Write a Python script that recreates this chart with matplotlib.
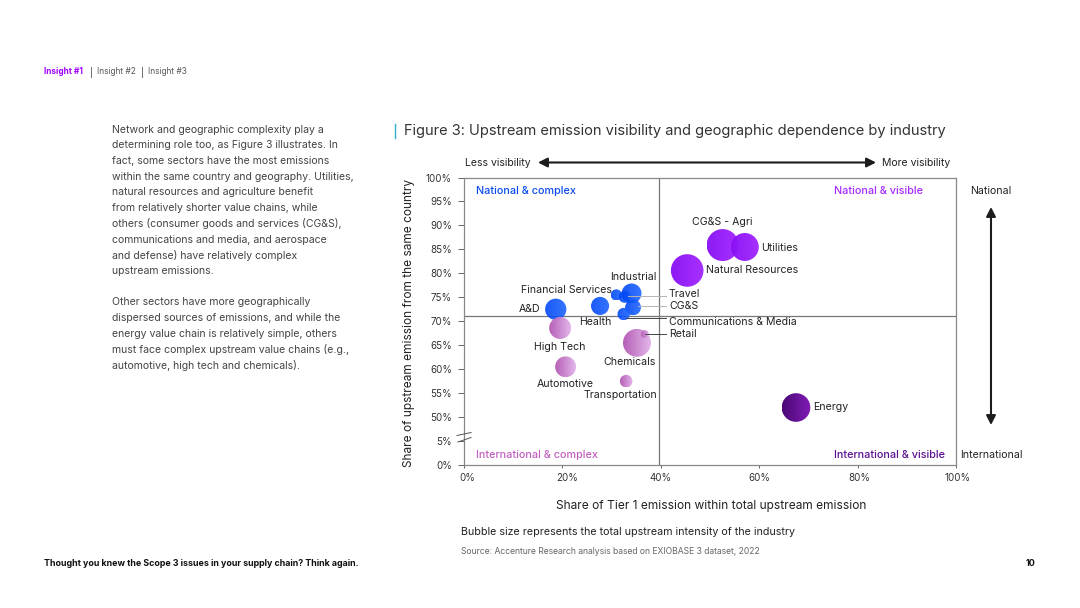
import numpy as np
import matplotlib
matplotlib.use("Agg")
import matplotlib.pyplot as plt
from matplotlib.colors import LinearSegmentedColormap
from matplotlib.patches import Circle
from matplotlib.transforms import IdentityTransform, ScaledTranslation

W, H = 1080, 608

# chart data
industries = ['A&D', 'Financial Services', 'Health', 'Travel', 'Industrial', 'CG&S', 'Communications & Media',
              'High Tech', 'Automotive', 'Chemicals', 'Transportation', 'Retail',
              'Natural Resources', 'CG&S - Agri', 'Utilities', 'Energy']
tier1_share = [18.7, 31.0, 27.7, 32.7, 34.1, 34.4, 32.5,
               19.6, 20.7, 35.2, 33.0, 36.8,
               45.4, 52.6, 57.1, 67.5]
same_country = [72.5, 75.5, 73.2, 75.1, 75.8, 72.9, 71.5,
                68.6, 60.5, 65.5, 57.5, 67.3,
                80.6, 85.9, 85.5, 52.0]
bubble_size = [235, 65, 170, 75, 205, 130, 80,
               250, 225, 405, 82, 33,
               550, 530, 405, 425]
groups = ['complex_nat'] * 7 + ['complex_int'] * 5 + ['visible_nat'] * 3 + ['visible_int']

x_ticks = [0, 20, 40, 60, 80, 100]
y_ticks = [0, 5, 50, 55, 60, 65, 70, 75, 80, 85, 90, 95, 100]

group_colors = {
    'complex_nat': ('#0046f5', '#1f66ff'),
    'complex_int': ('#b45ab4', '#e2b4ea'),
    'visible_nat': ('#8a12f5', '#a52aff'),
    'visible_int': ('#440070', '#7d14b4'),
}

# text placed by pixel position on the page: label, left x, centre y
label_pos = [
    ('A&D', 519, 309), ('Financial Services', 521, 290), ('Health', 579, 322), ('Travel', 669, 294),
    ('Industrial', 610, 277), ('CG&S', 669, 306), ('Communications & Media', 669, 322),
    ('High Tech', 534, 347), ('Automotive', 537, 384), ('Chemicals', 603, 362),
    ('Transportation', 584, 395), ('Retail', 669, 334), ('Natural Resources', 706, 270),
    ('CG&S - Agri', 692, 222), ('Utilities', 761, 248), ('Energy', 813, 407),
]

body_lines = [
    'Network and geographic complexity play a',
    'determining role too, as Figure 3 illustrates. In',
    'fact, some sectors have the most emissions',
    'within the same country and geography. Utilities,',
    'natural resources and agriculture benefit',
    'from relatively shorter value chains, while',
    'others (consumer goods and services (CG&S),',
    'communications and media, and aerospace',
    'and defense) have relatively complex',
    'upstream emissions.',
    '',
    'Other sectors have more geographically',
    'dispersed sources of emissions, and while the',
    'energy value chain is relatively simple, others',
    'must face complex upstream value chains (e.g.,',
    'automotive, high tech and chemicals).',
]

plt.rcParams['font.family'] = ['Inter', 'DejaVu Sans']


def px_text(x, y, s, size=7.0, color='#222222', weight='normal', ha='left', **kw):
    return fig.text(x / W, 1 - y / H, s, fontsize=size, color=color, fontweight=weight,
                    ha=ha, va='center', **kw)


def px_line(x0, y0, x1, y1, color='#888888', lw=0.8):
    fig.add_artist(plt.Line2D([x0 / W, x1 / W], [1 - y0 / H, 1 - y1 / H], color=color, lw=lw))


def px_arrow(x0, y0, x1, y1):
    ax_page.annotate('', xy=(x1, y1), xytext=(x0, y0), xycoords='data', textcoords='data',
                     arrowprops=dict(arrowstyle='<|-|>,head_length=0.55,head_width=0.28', color='#1c1c1c',
                                     lw=1.5, shrinkA=0, shrinkB=0))


# broken y axis: 0-5 and 50-100 get the same spacing per tick
def y_forward(v):
    return np.interp(v, [0, 5, 50, 100], [0, 1, 2, 12])


def y_inverse(v):
    return np.interp(v, [0, 1, 2, 12], [0, 5, 50, 100])


fig = plt.figure(figsize=(W / 100, H / 100), dpi=100, facecolor='white')

# transparent page layer for the arrows
ax_page = fig.add_axes([0, 0, 1, 1], zorder=0)
ax_page.set_xlim(0, W)
ax_page.set_ylim(H, 0)
ax_page.axis('off')

ax = fig.add_axes([463.7 / W, 1 - 465 / H, (956 - 463.7) / W, (465 - 177.5) / H], zorder=1)
ax.patch.set_alpha(0)
ax.set_yscale('function', functions=(y_forward, y_inverse))
ax.set_xlim(0, 100)
ax.set_ylim(0, 100)

ax.set_xticks(x_ticks)
ax.set_xticklabels([f'{t}%' for t in x_ticks], fontsize=7, color='#333333')
ax.set_yticks(y_ticks)
ax.set_yticklabels([f'{t}%' for t in y_ticks], fontsize=7, color='#333333')
ax.minorticks_off()
ax.tick_params(axis='y', length=4, width=0.7, color='#666666', pad=4.4)
ax.tick_params(axis='x', length=2.2, width=0.7, color='#666666', pad=3.8)

# the x tick labels sit a little right of their ticks in the original
for lab, shift in zip(ax.get_xticklabels(), [4, 5, 0, 0, 2, 2]):
    lab.set_transform(lab.get_transform() + ScaledTranslation(shift / 100, 0, fig.dpi_scale_trans))
for side in ax.spines:
    ax.spines[side].set_color('#888888')
    ax.spines[side].set_linewidth(0.9)

# quadrant dividers
ax.axvline(39.6, color='#777777', lw=0.9, zorder=1)
ax.axhline(71.0, color='#777777', lw=0.9, zorder=1)

# bubbles, then a horizontal gradient clipped to each one
xs = np.array(tier1_share)
ys = np.array(same_country)
sizes = np.array(bubble_size)
base = [group_colors[g][0] for g in groups]
ax.scatter(xs, ys, s=sizes, c=base, linewidths=0, alpha=0.0, zorder=2)
fig.canvas.draw()
grad = np.linspace(0, 1, 64).reshape(1, -1)
for x, y, s, g in zip(xs, ys, sizes, groups):
    cx, cy = ax.transData.transform((x, y))
    r = np.sqrt(s) / 2 * 100 / 72
    cmap = LinearSegmentedColormap.from_list(g, group_colors[g])
    im = ax.imshow(grad, cmap=cmap, extent=(cx - r, cx + r, cy - r, cy + r), aspect='auto',
                   transform=IdentityTransform(), zorder=3, alpha=0.9 if g == 'complex_nat' else 0.97)
    im.set_clip_path(Circle((cx, cy), r, transform=IdentityTransform()))
ax.set_xlim(0, 100)
ax.set_ylim(0, 100)

# leader lines
px_line(628, 295.5, 666, 295.5, '#b5b5b5', 0.7)
px_line(638, 305.5, 666, 305.5, '#b5b5b5', 0.7)
px_line(626, 317.5, 666, 317.5, '#444444', 0.7)
px_line(645, 334.3, 666, 334.3, '#444444', 0.7)

# axis break marks
px_line(457, 435.5, 471, 432.5, '#555555', 0.7)
px_line(458, 442, 471, 437.5, '#555555', 0.7)

for name, lx, ly in label_pos:
    px_text(lx, ly, name, size=7.6)

# quadrant captions
px_text(476, 190.5, 'National & complex', size=7.8, color='#0a4cf0', weight='medium')
px_text(834, 190.5, 'National & visible', size=7.8, color='#a52aff', weight='medium')
px_text(476, 455, 'International & complex', size=7.8, color='#c060c0', weight='medium')
px_text(834, 455, 'International & visible', size=7.8, color='#5a1090', weight='medium')

# visibility and origin arrows
px_text(465, 163, 'Less visibility', size=7.55)
px_text(882, 163, 'More visibility', size=7.55)
px_arrow(538, 162.5, 876, 162.5)
px_text(991, 190.5, 'National', size=7.6, ha='center')
px_text(991, 455, 'International', size=7.6, ha='center')
px_arrow(991, 207, 991, 425)

# titles and axis names
px_line(394.5, 124, 394.5, 138, '#30b0c8', 1.0)
px_text(404, 131, 'Figure 3: Upstream emission visibility and geographic dependence by industry', size=10.55, color='#333333')
px_text(711, 506, 'Share of Tier 1 emission within total upstream emission', size=8.6, ha='center')
px_text(409, 323, 'Share of upstream emission from the same country', size=8.55, ha='center', rotation=90)
px_text(461, 532, 'Bubble size represents the total upstream intensity of the industry', size=7.7)
px_text(461, 552, 'Source: Accenture Research analysis based on EXIOBASE 3 dataset, 2022', size=6.2, color='#666666')

# page furniture
px_text(44, 72, 'Insight #1', size=6, color='#a100ff', weight='bold')
px_text(90, 72, '|', size=6)
px_text(97, 72, 'Insight #2', size=6, color='#555555')
px_text(141, 72, '|', size=6)
px_text(148, 72, 'Insight #3', size=6, color='#555555')
px_text(44, 564, 'Thought you knew the Scope 3 issues in your supply chain? Think again.', size=6.4, color='#111111', weight='bold')
px_text(1031, 564, '10', size=6.5, color='#111111', weight='bold', ha='center')

for i, line in enumerate(body_lines):
    px_text(112, 129.5 + i * 15.72, line, size=7.55, color='#444444')

plt.savefig('out.png', dpi=100)
